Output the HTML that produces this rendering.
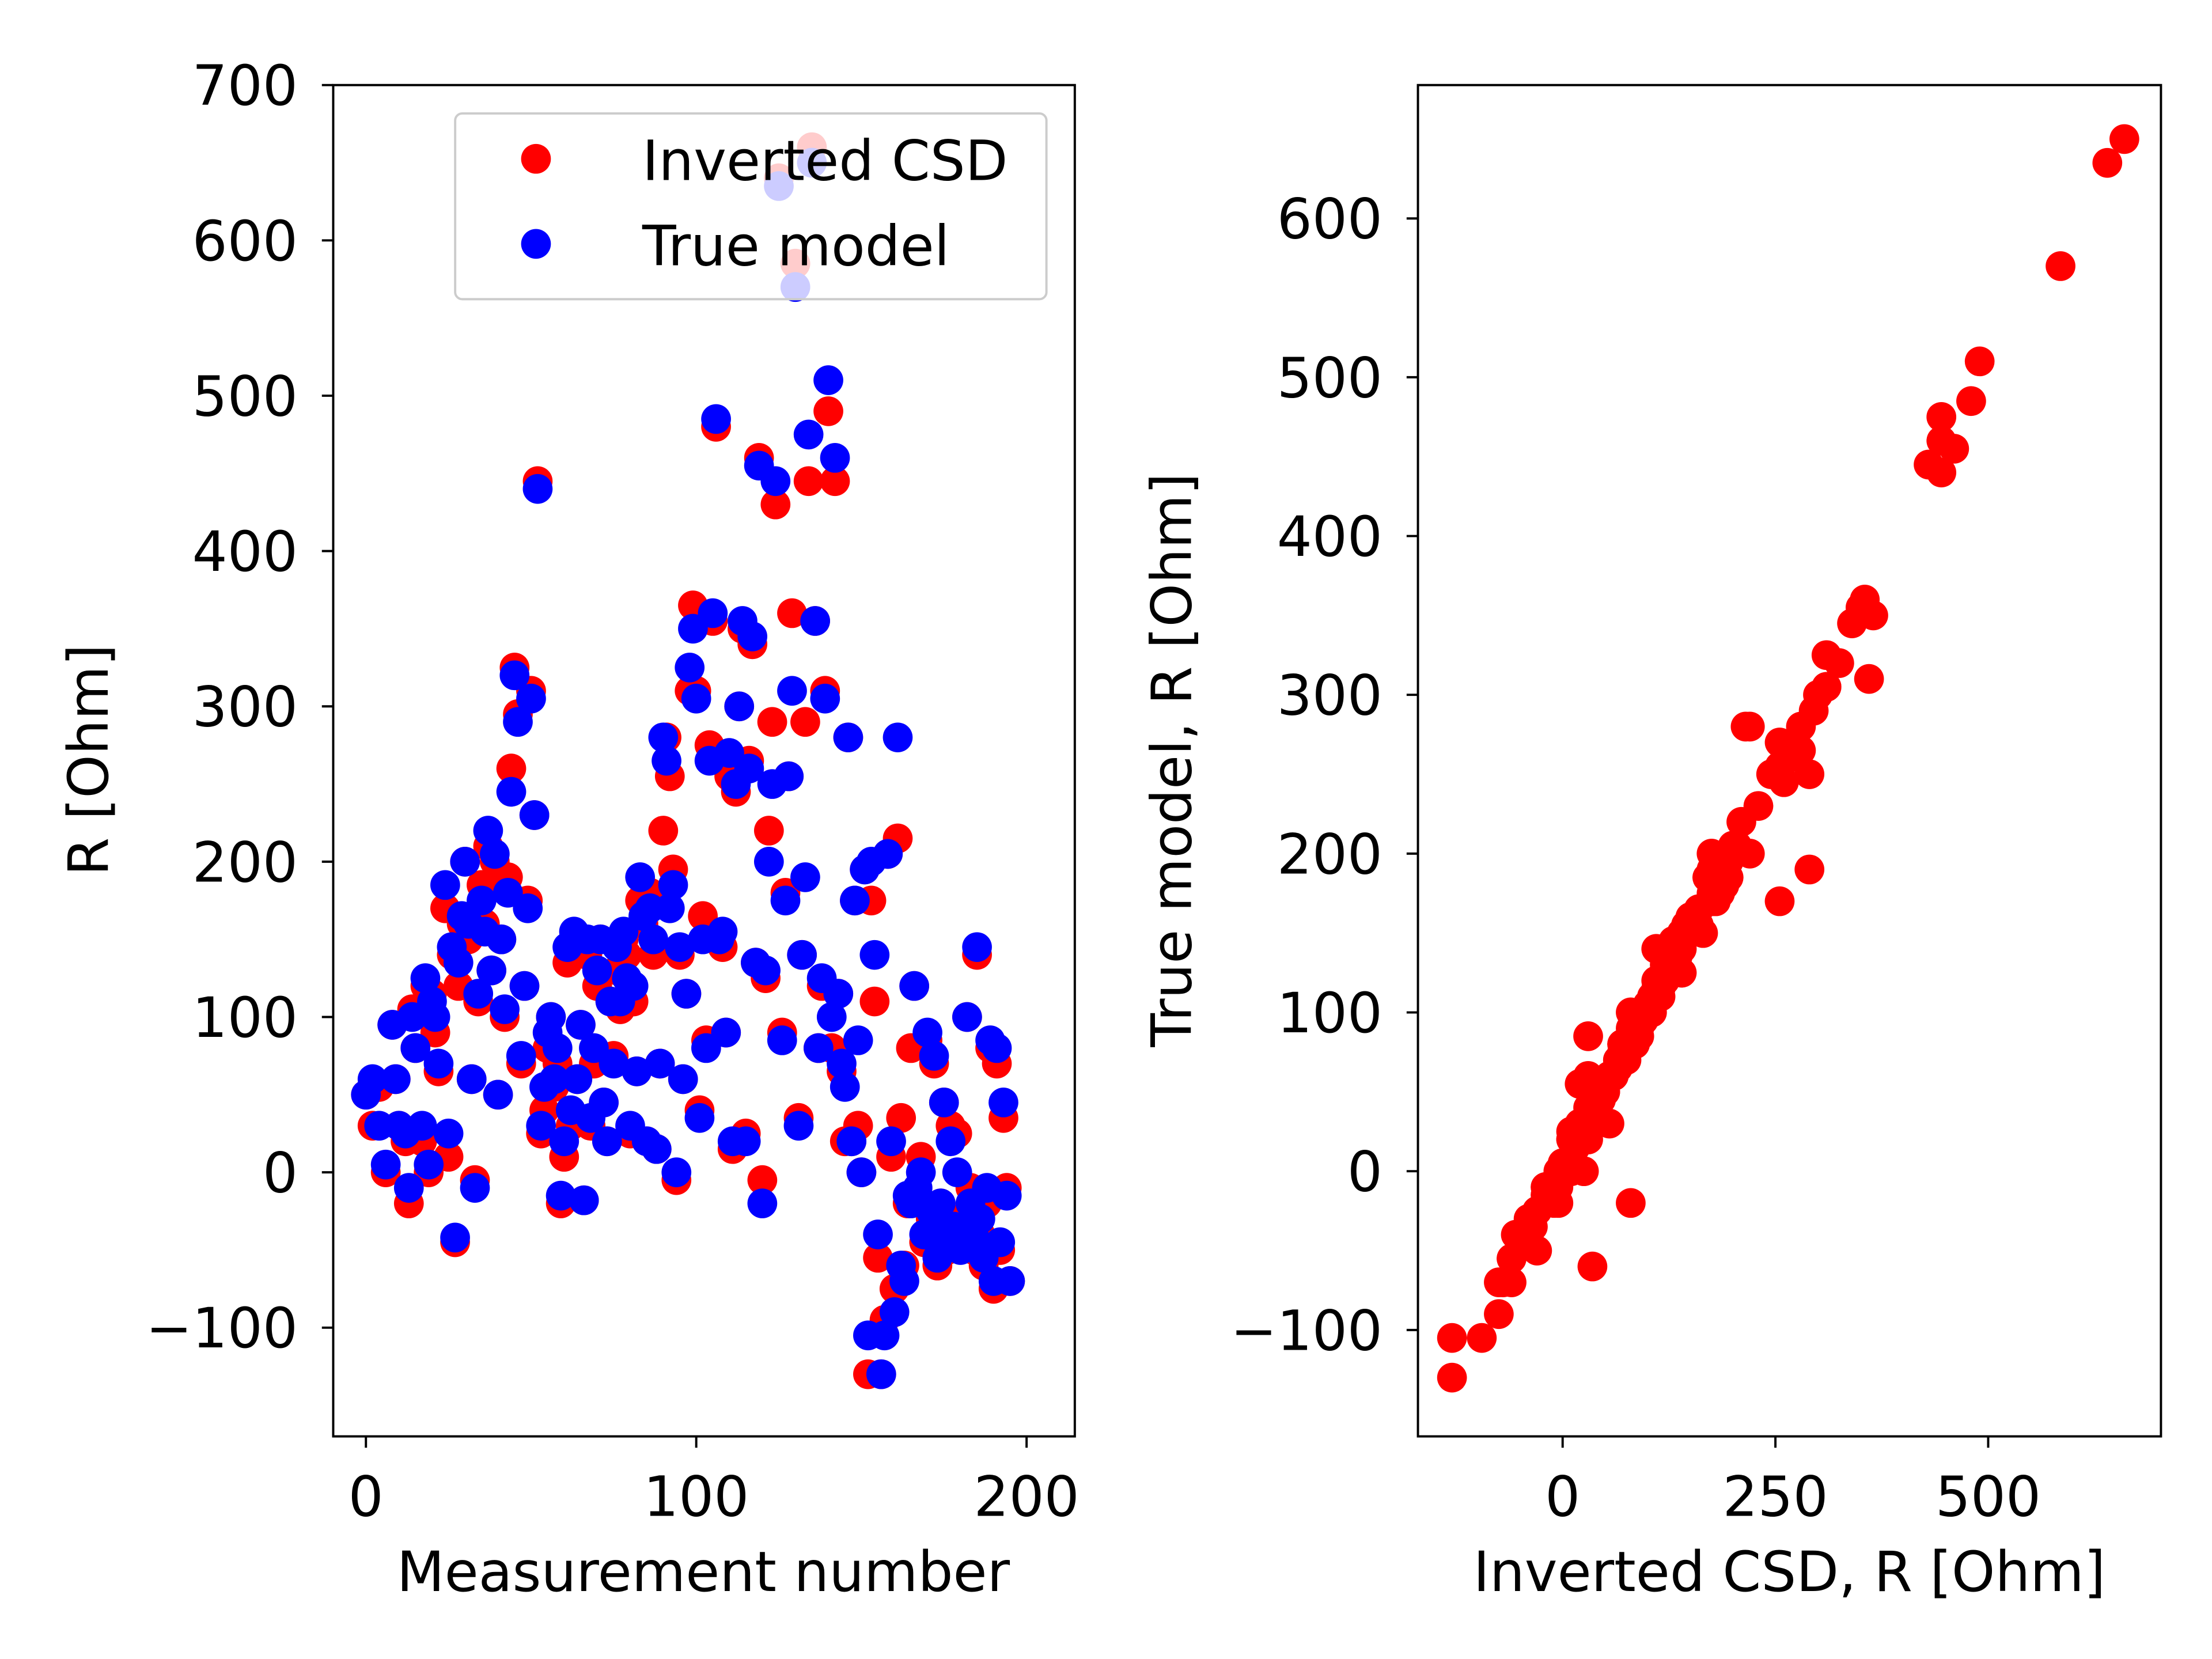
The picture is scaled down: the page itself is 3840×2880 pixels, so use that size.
<!DOCTYPE html>
<html><head><meta charset="utf-8"><style>
html,body{margin:0;padding:0;background:#fff;}
svg{display:block;}
text{font-family:"DejaVu Sans","Liberation Sans",sans-serif;fill:#000;}
</style></head><body>
<svg id="chart" xmlns="http://www.w3.org/2000/svg" width="3840" height="2880" viewBox="0 0 1560 1170">
<rect width="1560" height="1170" fill="#fff"/>
<g id="left"></g>
<g id="right"></g>
</svg>
<script>
const idx = [0,2,4,6,8,9,10,12,13,14,15,17,18,19,20,21,22,24,25,26,27,28,29,30,31,32,33,34,35,36,37,38,39,40,41,42,43,44,45,46,47,48,49,50,51,52,53,54,55,56,57,58,59,60,61,62,63,64,65,66,67,68,69,70,71,72,73,74,75,76,77,78,79,80,81,82,83,84,85,86,87,88,89,90,91,92,93,94,95,96,97,98,99,100,101,102,103,104,105,106,107,108,109,110,111,112,113,114,115,116,117,118,119,120,121,122,123,124,125,126,127,128,129,130,131,132,133,134,135,136,137,138,139,140,141,142,143,144,145,146,147,148,149,150,151,152,153,154,155,156,157,158,159,160,161,162,163,164,165,166,167,168,169,170,171,172,173,174,175,176,177,178,179,180,182,183,184,185,186,187,188,189,190,191,192,193,194,195];
const inverted = [50,30,55,0,95,60,30,20,-20,105,80,20,120,0,115,90,65,170,10,140,-45,120,160,200,150,60,-5,110,185,160,210,130,200,50,150,100,190,260,325,295,70,120,175,310,230,445,25,40,80,100,55,70,-20,10,135,30,150,60,95,-18,140,30,70,120,150,45,20,110,75,130,105,150,140,25,110,65,175,160,20,180,140,15,70,220,280,255,195,-5,140,60,115,310,365,310,40,165,85,275,355,480,150,145,90,255,15,245,300,350,25,265,340,135,460,-5,125,220,290,430,640,90,180,255,360,585,35,140,290,445,660,355,80,120,310,490,80,445,115,65,20,280,20,175,30,0,195,-130,175,110,-55,-130,-95,205,10,-75,215,35,-60,-20,80,120,-15,10,-45,85,-30,70,-60,-20,45,-50,30,-35,25,-30,100,-10,-50,140,-40,-60,-20,80,-75,70,-50,35,-10,-70];
const trueModel = [50,60,30,5,95,60,30,25,-10,100,80,30,125,5,110,100,70,185,25,145,-42,135,165,200,160,60,-10,115,175,155,220,130,205,50,150,105,180,245,320,290,75,120,170,305,230,440,30,55,90,100,60,80,-15,20,145,40,155,60,95,-18,150,35,80,130,150,45,20,110,70,145,110,155,125,30,120,65,190,165,20,170,150,15,70,280,265,170,185,0,145,60,115,325,350,305,35,150,80,265,360,485,150,155,90,270,20,250,300,355,20,260,345,135,455,-20,130,200,250,445,635,85,175,255,310,570,30,140,190,475,650,355,80,125,305,510,100,460,115,70,55,280,20,175,85,0,195,-105,200,140,-40,-130,-105,205,20,-90,280,-60,-70,-15,-20,120,-10,0,-40,90,-25,75,-55,-20,45,-40,20,-35,0,-50,100,-20,-40,145,-30,-55,-10,85,-70,80,-45,45,-15,-70];
const leftYTicks = [-100,0,100,200,300,400,500,600,700];
const leftXTicks = [0,100,200];
const rightYTicks = [-100,0,100,200,300,400,500,600];
const rightXTicks = [0,250,500];

const NS="http://www.w3.org/2000/svg";
const FS=39;
function mk(tag,attrs,parent,txt){const e=document.createElementNS(NS,tag);for(const k in attrs)e.setAttribute(k,attrs[k]);if(txt!==undefined)e.textContent=txt;parent.appendChild(e);return e;}
function lin(d0,d1,p0,p1){return v=>p0+(v-d0)*(p1-p0)/(d1-d0);}

// Left panel
const L=document.getElementById('left');
const lx=lin(-9.9,214.6,235,758), ly=lin(-170,700,1013,60);
for(let i=0;i<idx.length;i++){
 const c=mk('circle',{cx:lx(idx[i]),cy:ly(inverted[i]),r:10.5,fill:'#ff0000'},L);
 
 
}
for(let i=0;i<idx.length;i++){
 const c=mk('circle',{cx:lx(idx[i]),cy:ly(trueModel[i]),r:10.5,fill:'#0000ff'},L);
 
 
}
mk('rect',{x:235,y:60,width:523,height:953,fill:'none',stroke:'#000','stroke-width':1.6},L);
leftYTicks.forEach(t=>{const y=ly(t);mk('line',{x1:227,x2:235,y1:y,y2:y,stroke:'#000','stroke-width':1.6},L);
 const tx=mk('text',{x:210,y:y+14,'font-size':FS,'text-anchor':'end'},L,t<0?'\u2212'+(-t):String(t));
 });
leftXTicks.forEach(t=>{const x=lx(t);mk('line',{x1:x,x2:x,y1:1013,y2:1021,stroke:'#000','stroke-width':1.6},L);
 const tx=mk('text',{x:x,y:1069,'font-size':FS,'text-anchor':'middle'},L,String(t));
 });
let t=mk('text',{x:496,y:1122,'font-size':FS,'text-anchor':'middle'},L,'Measurement number');

t=mk('text',{x:0,y:0,'font-size':FS,'text-anchor':'middle',transform:'translate(76,536) rotate(-90)'},L,'R [Ohm]');

// legend
const lg=mk('g',{},L);

mk('rect',{x:321,y:80,width:417,height:131,rx:5,fill:'#fff','fill-opacity':0.8,stroke:'#ccc','stroke-width':1.6},lg);
mk('circle',{cx:378,cy:112,r:10.5,fill:'#ff0000'},lg);
mk('text',{x:453,y:127,'font-size':FS},lg,'Inverted CSD');
mk('circle',{cx:378,cy:172,r:10.5,fill:'#0000ff'},lg);
mk('text',{x:453,y:187,'font-size':FS},lg,'True model');

// Right panel
const R=document.getElementById('right');
const rx=lin(-170,703,1000,1524), ry=lin(-167,684,1013,60);
for(let i=0;i<idx.length;i++){
 const c=mk('circle',{cx:rx(inverted[i]),cy:ry(trueModel[i]),r:10.5,fill:'#ff0000'},R);
 
 
}
mk('rect',{x:1000,y:60,width:524,height:953,fill:'none',stroke:'#000','stroke-width':1.6},R);
rightYTicks.forEach(v=>{const y=ry(v);mk('line',{x1:992,x2:1000,y1:y,y2:y,stroke:'#000','stroke-width':1.6},R);
 const tx=mk('text',{x:975,y:y+14,'font-size':FS,'text-anchor':'end'},R,v<0?'\u2212'+(-v):String(v));
 });
rightXTicks.forEach(v=>{const x=rx(v);mk('line',{x1:x,x2:x,y1:1013,y2:1021,stroke:'#000','stroke-width':1.6},R);
 const tx=mk('text',{x:x,y:1069,'font-size':FS,'text-anchor':'middle'},R,String(v));
 });
t=mk('text',{x:1262,y:1122,'font-size':FS,'text-anchor':'middle'},R,'Inverted CSD, R [Ohm]');

t=mk('text',{x:0,y:0,'font-size':FS,'text-anchor':'middle',transform:'translate(840,536) rotate(-90)'},R,'True model, R [Ohm]');

</script>
</body></html>
